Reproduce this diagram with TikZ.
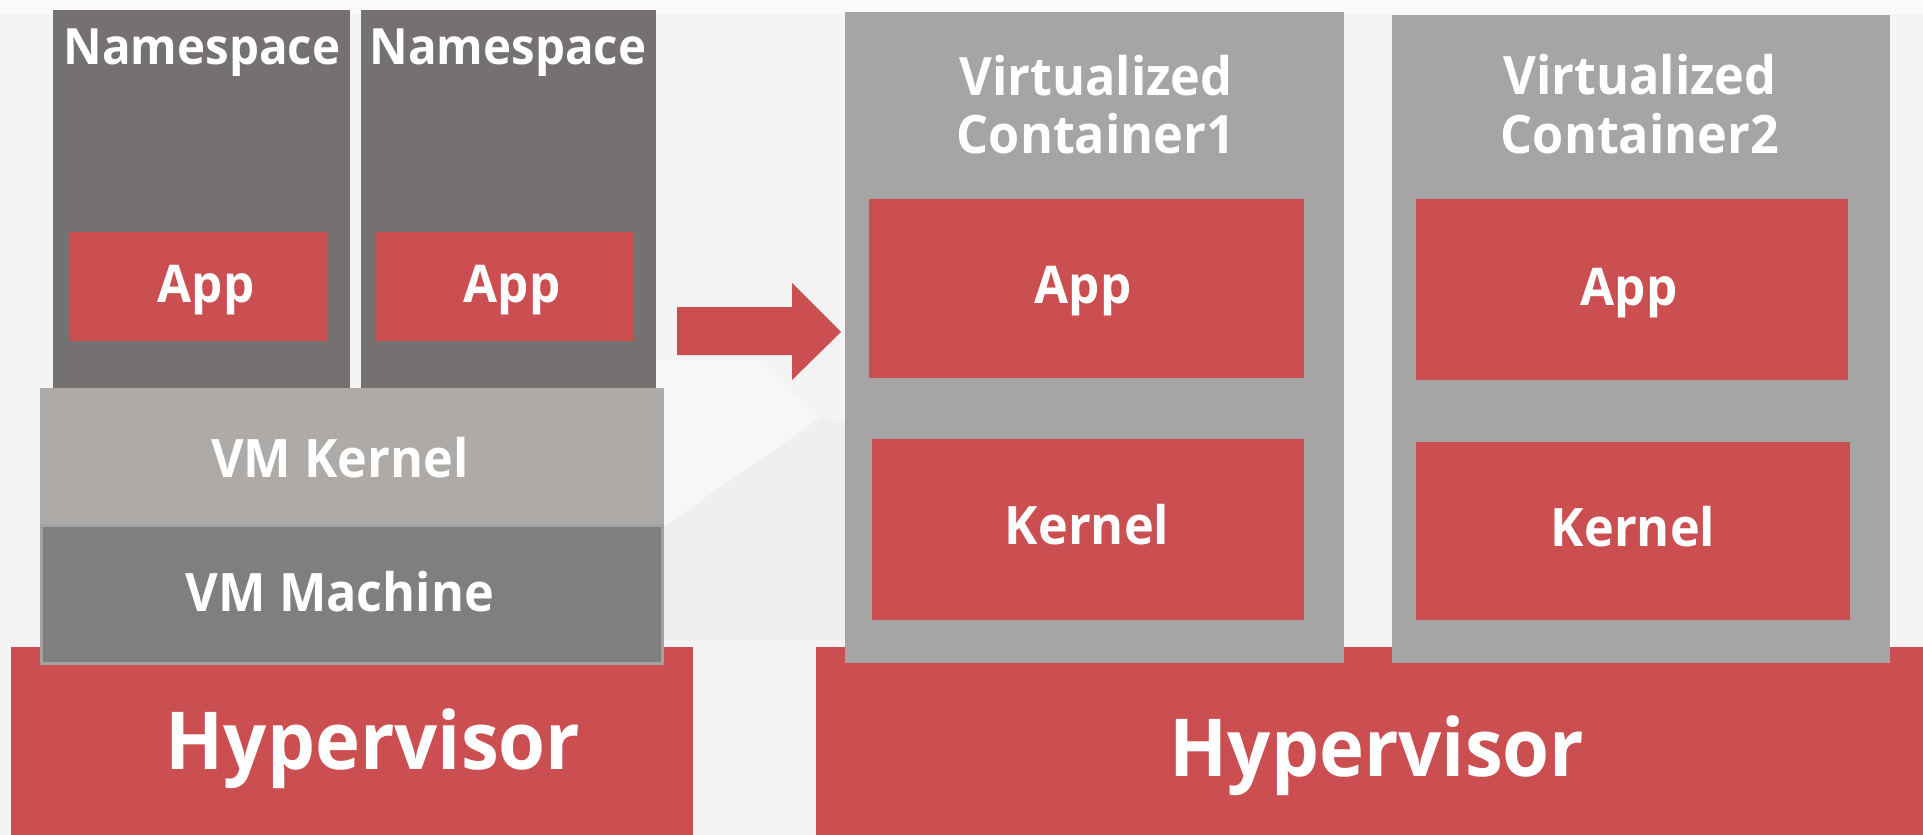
\documentclass[tikz,border=0pt]{standalone}
\usepackage{fontspec}
\setmainfont{Open Sans}[FakeStretch=0.95]
\definecolor{bgc}{HTML}{F4F4F5}
\definecolor{redc}{HTML}{CB4E51}
\definecolor{nsgray}{HTML}{757170}
\definecolor{vmkgray}{HTML}{AEAAA8}
\definecolor{vmmgray}{HTML}{7F7F7F}
\definecolor{ctgray}{HTML}{A5A5A5}
\definecolor{edgegray}{HTML}{A2A2A2}
\tikzset{
  blk/.style={draw=none, inner sep=0pt, outer sep=0pt, anchor=north west},
  lbl/.style={text=white, inner sep=0pt, anchor=base, font=\bfseries\fontsize{#1}{#1}\selectfont},
  lbl/.default=52
}
\begin{document}
\begin{tikzpicture}[x=1pt,y=-1pt]
% canvas
\fill[bgc] (0,0) rectangle (1923,835);
\useasboundingbox (0,0) rectangle (1923,835);
% faint background facets
\fill[white,opacity=0.6] (0,0) -- (1923,0) -- (1923,14) -- (0,14) -- cycle;
\fill[white,opacity=0.35] (656,360) -- (757,360) -- (820,418) -- (656,532) -- cycle;
\fill[black,opacity=0.018] (656,532) -- (820,418) -- (845,422) -- (845,640) -- (656,640) -- cycle;

% ---- left stack: VM with namespaces ----
\node[blk, fill=redc, minimum width=682, minimum height=190] (hypL) at (11,647) {};
\node[blk, fill=nsgray, minimum width=297, minimum height=378] (ns1) at (53,10) {};
\node[blk, fill=nsgray, minimum width=295, minimum height=378] (ns2) at (361,10) {};
\node[blk, fill=redc, minimum width=258, minimum height=109] (app1) at (70,232) {};
\node[blk, fill=redc, minimum width=258, minimum height=109] (app2) at (376,232) {};
\node[blk, fill=vmkgray, minimum width=624, minimum height=136] (vmk) at (40,388) {};
\node[blk, fill=vmmgray, draw=edgegray, line width=2.5pt, minimum width=621, minimum height=138] (vmm) at (41.5,525.5) {};

\node[lbl=50] (ns1t) at (202,64) {Namespace};
\node[lbl=50] (ns2t) at (508,64) {Namespace};
\node[lbl] (app1t) at (206,302) {App};
\node[lbl] (app2t) at (512,302) {App};
\node[lbl=53] (vmkt) at (340,477) {VM Kernel};
\node[lbl=53] (vmmt) at (340,611) {VM Machine};
\node[lbl=80] (hypLt) at (373,769) {Hypervisor};

% ---- block arrow ----
\fill[redc] (677,307) -- (792,307) -- (792,283) -- (841,332) -- (792,380) -- (792,355) -- (677,355) -- cycle;

% ---- right stack: virtualized containers ----
\node[blk, fill=redc, minimum width=1110, minimum height=190] (hypR) at (816,647) {};
\node[blk, fill=ctgray, minimum width=499, minimum height=651] (c1) at (845,12) {};
\node[blk, fill=ctgray, minimum width=498, minimum height=648] (c2) at (1392,15) {};
\node[blk, fill=redc, minimum width=435, minimum height=179] (c1app) at (869,199) {};
\node[blk, fill=redc, minimum width=432, minimum height=181] (c1ker) at (872,439) {};
\node[blk, fill=redc, minimum width=432, minimum height=181] (c2app) at (1416,199) {};
\node[blk, fill=redc, minimum width=434, minimum height=178] (c2ker) at (1416,442) {};

\node[lbl=53] (c1t1) at (1096,95) {Virtualized};
\node[lbl=53] (c1t2) at (1096,153) {Container1};
\node[lbl=53] (c2t1) at (1640,94) {Virtualized};
\node[lbl=53] (c2t2) at (1640,153) {Container2};
\node[lbl] (c1appt) at (1083,303) {App};
\node[lbl=53] (c1kert) at (1087,544) {Kernel};
\node[lbl] (c2appt) at (1629,305) {App};
\node[lbl=53] (c2kert) at (1633,546) {Kernel};
\node[lbl=80] (hypRt) at (1377,776) {Hypervisor};
\end{tikzpicture}
\end{document}
